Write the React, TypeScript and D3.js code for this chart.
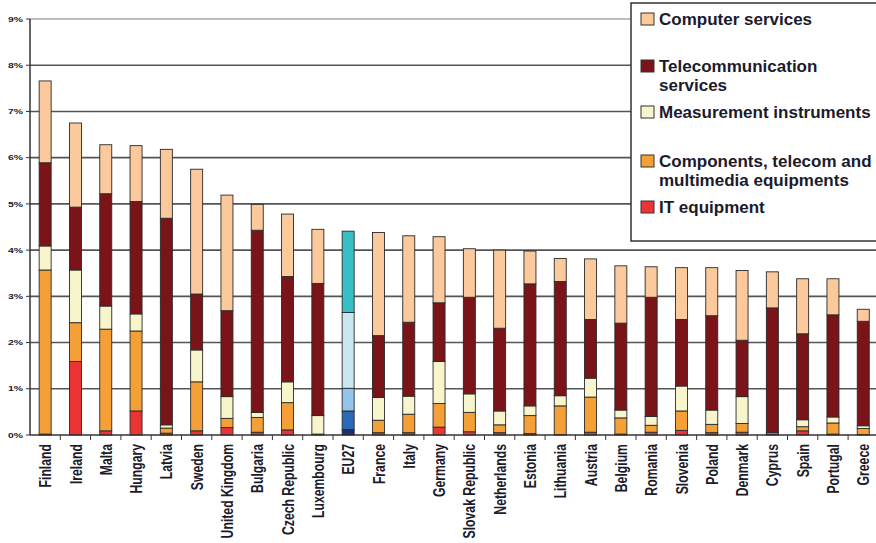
import React from "react";
import * as d3 from "d3";

const countries = ["Finland","Ireland","Malta","Hungary","Latvia","Sweden","United Kingdom","Bulgaria","Czech Republic","Luxembourg","EU27","France","Italy","Germany","Slovak Republic","Netherlands","Estonia","Lithuania","Austria","Belgium","Romania","Slovenia","Poland","Denmark","Cyprus","Spain","Portugal","Greece"];

const itEquipment = [0.02,1.59,0.09,0.52,0.04,0.09,0.16,0.06,0.11,0.00,0.12,0.05,0.05,0.17,0.07,0.05,0.03,0.01,0.06,0.02,0.06,0.10,0.05,0.06,0.00,0.09,0.02,0.01];
const components = [3.55,0.84,2.20,1.73,0.11,1.06,0.20,0.32,0.59,0.02,0.40,0.27,0.40,0.51,0.42,0.17,0.39,0.62,0.76,0.35,0.15,0.42,0.18,0.19,0.02,0.09,0.24,0.13];
const measurement = [0.52,1.14,0.50,0.37,0.07,0.69,0.47,0.11,0.45,0.40,0.49,0.49,0.39,0.91,0.40,0.30,0.21,0.22,0.41,0.17,0.19,0.54,0.31,0.58,0.03,0.15,0.13,0.06];
const telecom = [1.80,1.36,2.43,2.43,4.47,1.21,1.86,3.94,2.28,2.86,1.64,1.34,1.60,1.27,2.09,1.79,2.64,2.47,1.27,1.88,2.58,1.44,2.04,1.22,2.70,1.86,2.21,2.26];
const computerServices = [1.77,1.82,1.06,1.21,1.49,2.70,2.50,0.56,1.35,1.17,1.76,2.23,1.87,1.43,1.05,1.69,0.71,0.50,1.31,1.24,0.66,1.12,1.04,1.51,0.78,1.19,0.78,0.26];

const yTicks = [0,1,2,3,4,5,6,7,8,9];

const seriesKeys = ["it","comp","meas","tel","cs"];
const seriesColors = ["#ec3434","#f5a036","#f8f5cc","#7a1418","#fbc99c"];
const eu27Colors = ["#1e2d6b","#2b6ab6","#93c4ea","#c9e7f1","#38c0c6"];

const legendItems = [
  { lines: ["Computer services"], color: "#fbc99c" },
  { lines: ["Telecommunication", "services"], color: "#7a1418" },
  { lines: ["Measurement instruments"], color: "#f8f5cc" },
  { lines: ["Components, telecom and", "multimedia equipments"], color: "#f5a036" },
  { lines: ["IT equipment"], color: "#ec3434" },
];
const legendBaselines = [25, 72, 118, 167, 213];

export default function App() {
  const W = 876, H = 543;
  const left = 30, right = 878.4, top = 19, bottom = 435;
  const font = "'Liberation Sans', Arial, sans-serif";
  const textColor = "#1b1b2b";

  const rows = countries.map((c, i) => ({
    country: c,
    it: itEquipment[i],
    comp: components[i],
    meas: measurement[i],
    tel: telecom[i],
    cs: computerServices[i],
  }));
  const stacked = d3.stack<any>().keys(seriesKeys)(rows);

  const x = d3.scaleBand<string>().domain(countries).range([left, right]).padding(0);
  const y = d3.scaleLinear().domain([0, 9]).range([bottom, top]);
  const barW = 12;

  return (
    <svg width={W} height={H} style={{ position: "absolute", left: 0, top: 0, display: "block", background: "#fff" }}>
      {/* gridlines */}
      {yTicks.filter(t => t > 0).map(t => (
        <line key={"g" + t} x1={left} x2={W} y1={y(t)} y2={y(t)}
          stroke={t === 9 ? "#a8a8a8" : "#555"} strokeWidth={t === 9 ? 1.3 : 1.6} />
      ))}
      {/* y tick labels */}
      {yTicks.map(t => (
        <g key={"yl" + t} transform={`translate(23,${y(t)}) scale(1,0.72)`}>
          <text textAnchor="end" dy="0.36em" fontFamily={font} fontWeight="bold" fontSize={10.4} fill={textColor}>{t + "%"}</text>
        </g>
      ))}
      {yTicks.map(t => (
        <line key={"yt" + t} x1={26} x2={left} y1={y(t)} y2={y(t)} stroke="#333" strokeWidth={1} />
      ))}
      {/* bars */}
      {stacked.map((s, si) => (
        <g key={s.key}>
          {s.map((d, i) => {
            const c = countries[i];
            const fill = c === "EU27" ? eu27Colors[si] : seriesColors[si];
            const h = y(d[0]) - y(d[1]);
            return (
              <rect key={c} x={(x(c) as number) + x.bandwidth() / 2 - barW / 2} y={y(d[1])}
                width={barW} height={Math.max(h, 0)} fill={fill} stroke="#2a2a2a" strokeWidth={0.9} />
            );
          })}
        </g>
      ))}
      {/* axes */}
      <line x1={left} x2={left} y1={top} y2={bottom} stroke="#333" strokeWidth={1.5} />
      <line x1={left} x2={W} y1={bottom} y2={bottom} stroke="#333" strokeWidth={1.5} />
      {countries.map((c, i) => (
        <line key={"xt" + i} x1={(x(c) as number) + x.bandwidth()} x2={(x(c) as number) + x.bandwidth()}
          y1={bottom} y2={bottom + 5} stroke="#333" strokeWidth={1} />
      ))}
      {/* x labels */}
      {countries.map(c => (
        <g key={"xl" + c} transform={`translate(${(x(c) as number) + x.bandwidth() / 2},444) scale(1,0.72) rotate(-90)`}>
          <text textAnchor="end" dy="0.36em" fontFamily={font} fontWeight="bold" fontSize={17} fill={textColor}>{c}</text>
        </g>
      ))}
      {/* legend */}
      <rect x={631} y={3} width={260} height={238} fill="#fff" stroke="#333" strokeWidth={1.5} />
      {legendItems.map((it, i) => (
        <g key={"lg" + i}>
          <rect x={641} y={legendBaselines[i] - 12} width={13} height={12} fill={it.color} stroke="#333" strokeWidth={1} />
          {it.lines.map((ln, j) => (
            <text key={j} x={659} y={legendBaselines[i] + j * 19} fontFamily={font} fontWeight="bold" fontSize={17} fill={textColor}>{ln}</text>
          ))}
        </g>
      ))}
    </svg>
  );
}
